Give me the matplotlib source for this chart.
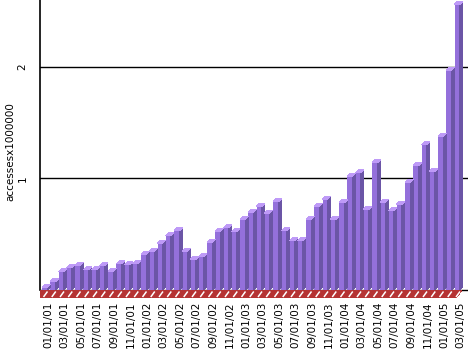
import matplotlib
matplotlib.use("Agg")
import matplotlib.pyplot as plt
from matplotlib.patches import Polygon

# ---- data ----
months = [f"{m:02d}/01/{y:02d}" for y in range(1, 6) for m in range(1, 13)][:51]
values = [0.02, 0.075, 0.165, 0.20, 0.22, 0.18, 0.18, 0.22, 0.17, 0.235,
          0.225, 0.235, 0.32, 0.345, 0.42, 0.485, 0.53, 0.345, 0.275, 0.30,
          0.425, 0.525, 0.56, 0.52, 0.63, 0.695, 0.75, 0.69, 0.79, 0.53,
          0.44, 0.44, 0.63, 0.75, 0.815, 0.635, 0.78, 1.02, 1.05, 0.725,
          1.14, 0.785, 0.71, 0.77, 0.965, 1.115, 1.30, 1.065, 1.38, 1.97,
          2.56]
ytick_vals = [1, 2]
ylabel = "accessesx1000000"

# ---- style ----
W, H = 468, 351
front_c = "#9470DB"
side_c = "#6B55A6"
top_c = "#BE9AF7"
floor_c = "#B53333"

fig = plt.figure(figsize=(W / 100, H / 100), dpi=100)
px_per_unit_x = 8.25
px_per_unit_y = 111.3
ax_left_px, ax_right_px = 40, 468
ax_top_px = 0
ymin, ymax = -0.07, 2.6
ax_bottom_px = 290 + (-ymin) * px_per_unit_y
ax = fig.add_axes([ax_left_px / W, 1 - ax_bottom_px / H,
                   (ax_right_px - ax_left_px) / W, (ax_bottom_px - ax_top_px) / H])
x0 = -2 / px_per_unit_x
ax.set_xlim(x0, x0 + (ax_right_px - ax_left_px) / px_per_unit_x)
ax.set_ylim(ymin, ymax)

for s in ax.spines.values():
    s.set_visible(False)

# gridlines
for g in [0] + ytick_vals:
    ax.axhline(g, color="black", lw=1, zorder=1)
ax.plot([x0, x0], [0, ymax], color="black", lw=1.2, zorder=1, clip_on=False)

# floor
dxp = lambda p: p / px_per_unit_x
dyp = lambda p: p / px_per_unit_y
n = len(values)
fl = [(dxp(-6), dyp(-7.5)), (dxp(-1), dyp(-1)), (dxp(-1) + n - 0.05, dyp(-1)),
      (dxp(-6) + n - 0.05, dyp(-7.5))]
ax.add_patch(Polygon(fl, closed=True, facecolor=floor_c, edgecolor="none",
                     zorder=2, antialiased=False))
for i in range(n):
    xs = i + dxp(1.5)
    ax.plot([xs, xs + dxp(4)], [dyp(-7), dyp(-1.5)], color="white", lw=1.1,
            zorder=3, solid_capstyle="butt")

# bars
w = 5.2 / px_per_unit_x
ddx = dxp(3)
ddy = dyp(3)
ax.bar(range(n), values, width=w, align="edge", color=front_c,
       edgecolor="none", zorder=4, antialiased=False)
for i, v in enumerate(values):
    xl = i
    xr = i + w
    ax.add_patch(Polygon([(xr, 0), (xr + ddx, ddy), (xr + ddx, v + ddy), (xr, v)],
                         closed=True, facecolor=side_c, edgecolor="none",
                         zorder=4, antialiased=False))
    ax.add_patch(Polygon([(xl, v), (xl + ddx, v + ddy), (xr + ddx, v + ddy), (xr, v)],
                         closed=True, facecolor=top_c, edgecolor="none",
                         zorder=4, antialiased=False))

# ticks
ax.set_xticks([i + 0.72 for i in range(0, n, 2)])
ax.set_xticklabels(months[0:n:2], rotation=90, fontsize=7.5)
ax.tick_params(axis="x", length=0, pad=3)
ax.set_yticks(ytick_vals)
ax.set_yticklabels([str(t) for t in ytick_vals], rotation=90, fontsize=7.5,
                   va="center")
ax.tick_params(axis="y", length=0, pad=9)
fig.text(10 / W, 1 - 152 / H, ylabel, rotation=90, fontsize=7.5,
         ha="center", va="center")

fig.savefig("out.png", dpi=100)
